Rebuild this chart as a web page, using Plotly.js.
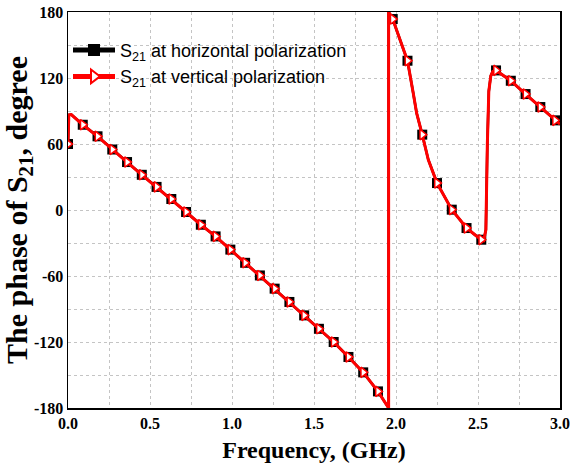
<!DOCTYPE html>
<html><head><meta charset="utf-8">
<script src="https://cdn.plot.ly/plotly-3.0.1.min.js"></script>
<style>html,body{margin:0;padding:0;background:#fff}#chart{width:570px;height:468px}</style>
</head><body><div id="chart"></div>
<script>
// Frequencies (GHz) where the markers sit
const markerFreq = [0, 0.09, 0.18, 0.27, 0.36, 0.45, 0.54, 0.63, 0.72, 0.81, 0.90, 0.99, 1.08, 1.17, 1.26, 1.35, 1.44, 1.53, 1.62, 1.71, 1.80, 1.89, 1.98, 2.07, 2.16, 2.25, 2.34, 2.43, 2.52, 2.61, 2.70, 2.79, 2.88, 2.97];

// Curve samples (GHz)
const curveFreq = [0, 0.005, 0.02, 0.09, 0.18, 0.27, 0.36, 0.45, 0.54, 0.63, 0.72, 0.81, 0.90, 0.99, 1.08, 1.17, 1.26, 1.35, 1.44, 1.53, 1.62, 1.71, 1.80, 1.89, 1.93, 1.955, 1.955, 1.98, 2.024, 2.07, 2.105, 2.126, 2.16, 2.197, 2.25, 2.309, 2.34, 2.39, 2.43, 2.481, 2.52, 2.535, 2.548, 2.557, 2.566, 2.578, 2.59, 2.61, 2.70, 2.79, 2.88, 2.97, 3.00];

// Phase of S21 (degree), horizontal polarization
const phaseH = [60, 86.5, 86.7, 77.5, 67, 55, 43.6, 32, 21, 10, -1.8, -13.4, -24, -36, -48, -59.5, -71.5, -83.6, -95.8, -108, -120, -133.6, -147.6, -164.9, -174, -180, 180, 173.6, 155, 135.7, 106.4, 88, 68.5, 45.7, 24.5, 9.4, 0.3, -8.8, -16.4, -22.5, -27, -27.8, -18, 60, 108, 122, 126, 126.9, 117.5, 105.4, 93.6, 81.5, 78];

// Phase of S21 (degree), vertical polarization
const phaseV = [60, 86.5, 86.7, 77.5, 67, 55, 43.6, 32, 21, 10, -1.8, -13.4, -24, -36, -48, -59.5, -71.5, -83.6, -95.8, -108, -120, -133.6, -147.6, -164.9, -174, -180, 180, 173.6, 155, 135.7, 106.4, 88, 68.5, 45.7, 24.5, 9.4, 0.3, -8.8, -16.4, -22.5, -27, -27.8, -18, 60, 108, 122, 126, 126.9, 117.5, 105.4, 93.6, 81.5, 78];

// Tick labels
const xTickVals = [0, 0.5, 1.0, 1.5, 2.0, 2.5, 3.0];
const xTickText = ['0.0', '0.5', '1.0', '1.5', '2.0', '2.5', '3.0'];
const yTickVals = [-180, -120, -60, 0, 60, 120, 180];
const yTickText = ['-180', '-120', '-60', '0', '60', '120', '180'];

const seriesNames = ['S<sub>21</sub> at horizontal polarization', 'S<sub>21</sub> at vertical polarization'];
const xTitle = 'Frequency, (GHz)';
const yTitle = 'The phase of S<sub>21</sub>, degree';

const isMarker = curveFreq.map((f, i) => markerFreq.includes(f) && !(f === curveFreq[i - 1]));

const traces = [
  {
    x: curveFreq, y: phaseH, name: seriesNames[0], mode: 'lines+markers',
    line: {color: '#000000', width: 2.5},
    marker: {symbol: 'square', color: '#000000', opacity: 1, size: isMarker.map(m => m ? 10 : 0), line: {width: 0}}
  },
  {
    x: curveFreq, y: phaseV, name: seriesNames[1], mode: 'lines+markers',
    line: {color: '#ff0000', width: 3},
    marker: {symbol: 'triangle-right', color: '#ffffff', opacity: 1, size: isMarker.map(m => m ? 9 : 0), line: {color: '#ff0000', width: 1.5}}
  }
];

const gridStyle = {gridcolor: '#c4c4c4', griddash: 'dot', gridwidth: 1};
const tickFont = {family: 'Liberation Serif', size: 16, weight: 'bold', color: '#000'};

const layout = {
  width: 570, height: 468,
  margin: {l: 68, r: 10, t: 12, b: 60},
  paper_bgcolor: '#ffffff', plot_bgcolor: '#ffffff',
  font: {family: 'Liberation Serif', color: '#000'},
  xaxis: Object.assign({
    range: [0, 3], tickmode: 'array', tickvals: xTickVals, ticktext: xTickText,
    showline: true, mirror: true, linecolor: '#000', linewidth: 1.5,
    showgrid: true, zeroline: false, ticks: '', tickfont: tickFont,
    minor: Object.assign({dtick: 0.25, tick0: 0, showgrid: true}, gridStyle),
    title: {text: xTitle, font: {family: 'Liberation Serif', size: 24, weight: 'bold'}, standoff: 10}
  }, gridStyle),
  yaxis: Object.assign({
    range: [-180, 180], tickmode: 'array', tickvals: yTickVals, ticktext: yTickText,
    showline: true, mirror: true, linecolor: '#000', linewidth: 1.5,
    showgrid: true, zeroline: false, ticks: '', tickfont: tickFont,
    minor: Object.assign({dtick: 30, tick0: 0, showgrid: true}, gridStyle),
    title: {text: yTitle, font: {family: 'Liberation Serif', size: 30, weight: 'bold'}, standoff: 5}
  }, gridStyle),
  legend: {
    x: 0.0, y: 0.95, xanchor: 'left', yanchor: 'top',
    bgcolor: 'rgba(0,0,0,0)', borderwidth: 0,
    font: {family: 'Liberation Sans', size: 18, color: '#000'},
    itemsizing: 'constant', itemwidth: 42, tracegroupgap: 0
  },
  showlegend: true
};

Plotly.newPlot('chart', traces, layout, {displayModeBar: false, staticPlot: true});
</script>
</body></html>
